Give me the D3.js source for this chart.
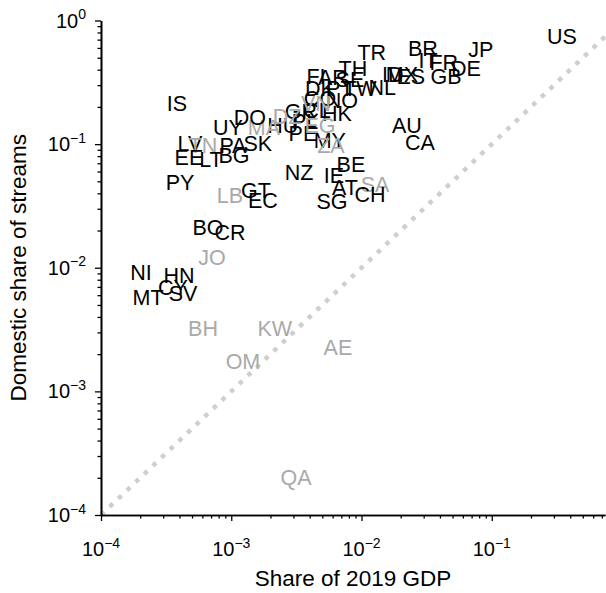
<!DOCTYPE html>
<html>
<head>
<meta charset="utf-8">
<script src="https://cdn.jsdelivr.net/npm/d3@7"></script>
<style>
  body { margin: 0; background: #fff; }
  text { font-family: Helvetica, Arial, "Liberation Sans", sans-serif; }
</style>
</head>
<body>
<svg width="606" height="593"></svg>
<script>
// country codes, GDP share (x), domestic share of streams (y)
const codes = ["US","JP","BR","IT","FR","DE","GB","TR","ID","MX","ES","NL","TH","FI","AR","SE",
  "DK","PT","TW","CO","NO","HK","GR","CL","VN","PE","PL","HU","MA","DZ","EG","MY","ZA","DO","UY",
  "IS","LV","TN","PA","SK","EE","LT","BG","NZ","IE","BE","AT","SA","CH","SG","AU","CA","PY","LB",
  "GT","EC","BO","CR","JO","NI","HN","CY","SV","MT","BH","KW","OM","AE","QA"];
const gdpShare = [0.345,0.0824,0.0296,0.0324,0.0428,0.0632,0.0445,0.0120,0.0174,0.0204,0.0239,0.0144,0.00859,0.00447,0.00603,0.00815,
  0.00480,0.00682,0.00973,0.00480,0.00708,0.00647,0.00343,0.00455,0.00447,0.00355,0.00368,0.00249,0.00178,0.00268,0.00480,0.00571,0.00582,0.00139,0.000943,
  0.000383,0.000482,0.000607,0.00103,0.00160,0.000473,0.000698,0.00105,0.00331,0.00614,0.00829,0.00746,0.0127,0.0116,0.00593,0.0223,0.0281,0.000404,0.000977,
  0.00155,0.00175,0.000662,0.000977,0.000711,0.000203,0.000397,0.000357,0.000426,0.000230,0.000607,0.00216,0.00123,0.00659,0.00314];
const streamShare = [0.75,0.588,0.599,0.479,0.461,0.413,0.356,0.556,0.369,0.369,0.356,0.290,0.413,0.356,0.349,0.336,
  0.284,0.284,0.284,0.236,0.227,0.179,0.185,0.189,0.215,0.123,0.154,0.143,0.1375,0.169,0.143,0.108,0.0983,0.166,0.1375,
  0.215,0.102,0.0983,0.0983,0.102,0.0786,0.0757,0.0816,0.0595,0.0562,0.069,0.045,0.0475,0.0395,0.0347,0.143,0.104,0.0493,0.0388,
  0.0425,0.0353,0.0213,0.0194,0.0122,0.00923,0.00873,0.00698,0.00624,0.00579,0.00325,0.00325,0.00176,0.00228,0.000203];
// markets drawn in grey
const greyCodes = ["VN","MA","DZ","EG","ZA","TN","SA","LB","JO","BH","KW","OM","AE","QA"];

const majorTicks = [1e-4, 1e-3, 1e-2, 1e-1];
const yMajorTicks = [1e-4, 1e-3, 1e-2, 1e-1, 1];
const tickExp = ["\u22124", "\u22123", "\u22122", "\u22121", "0"];

const svg = d3.select("svg");
const plotLeft = 101, plotRight = 605, plotTop = 20.5, plotBottom = 515;

const x = d3.scaleLog().domain([1e-4, 0.74]).range([plotLeft, plotRight]);
const y = d3.scaleLog().domain([1e-4, 1]).range([plotBottom, plotTop]);

const minorX = [], minorY = [];
for (let e = -4; e <= 0; e++) {
  for (let m = 2; m <= 9; m++) {
    const v = m * Math.pow(10, e);
    if (v <= 0.74) minorX.push(v);
    if (v < 1) minorY.push(v);
  }
}

// dotted y = x line
const line = d3.line().x(d => x(d)).y(d => y(d));
svg.append("path")
  .attr("d", line([1e-4, 0.74]))
  .attr("stroke", "#cfcfcf")
  .attr("stroke-width", 4.5)
  .attr("stroke-dasharray", "4.5 7.4")
  .attr("fill", "none");

// labels
const data = codes.map((c, i) => ({ c, x: gdpShare[i], y: streamShare[i] }));
svg.append("g").selectAll("text")
  .data(data)
  .join("text")
  .attr("x", d => x(d.x))
  .attr("y", d => y(d.y))
  .attr("dy", "0.36em")
  .attr("text-anchor", "middle")
  .attr("font-size", 21.5)
  .attr("fill", d => greyCodes.includes(d.c) ? "#a9a9a9" : "#000")
  .text(d => d.c);

// axes
const styleAxis = g => {
  g.selectAll("path").attr("stroke", "#000").attr("stroke-width", 1.6);
  g.selectAll("line").attr("stroke", "#000").attr("stroke-width", 1.3);
  g.selectAll("text").remove();
};

svg.append("g").attr("transform", `translate(0,${plotBottom})`)
  .call(d3.axisBottom(x).tickValues(majorTicks).tickSize(6).tickSizeOuter(0))
  .call(styleAxis);
svg.append("g").attr("transform", `translate(0,${plotBottom})`)
  .call(d3.axisBottom(x).tickValues(minorX).tickSize(3.5).tickSizeOuter(0))
  .call(styleAxis);
svg.append("g").attr("transform", `translate(${plotLeft},0)`)
  .call(d3.axisLeft(y).tickValues(yMajorTicks).tickSize(6).tickSizeOuter(0))
  .call(styleAxis);
svg.append("g").attr("transform", `translate(${plotLeft},0)`)
  .call(d3.axisLeft(y).tickValues(minorY).tickSize(3.5).tickSizeOuter(0))
  .call(styleAxis);

// tick labels 10^n
const xl = svg.append("g").selectAll("text")
  .data(majorTicks)
  .join("text")
  .attr("x", d => x(d))
  .attr("y", 556)
  .attr("text-anchor", "middle")
  .attr("font-size", 20);
xl.append("tspan").text("10");
xl.append("tspan").attr("dy", -8.5).attr("font-size", 14).text((d, i) => tickExp[i]);

const yl = svg.append("g").selectAll("text")
  .data(yMajorTicks)
  .join("text")
  .attr("x", 86)
  .attr("y", d => y(d) + 7)
  .attr("text-anchor", "end")
  .attr("font-size", 20);
yl.append("tspan").text("10");
yl.append("tspan").attr("dy", -8.5).attr("font-size", 14).text((d, i) => tickExp[i]);

// axis titles
svg.append("text")
  .attr("x", (plotLeft + plotRight) / 2)
  .attr("y", 586)
  .attr("text-anchor", "middle")
  .attr("font-size", 22.5)
  .text("Share of 2019 GDP");

svg.append("text")
  .attr("transform", `translate(26,${(plotTop + plotBottom) / 2}) rotate(-90)`)
  .attr("text-anchor", "middle")
  .attr("font-size", 22.5)
  .text("Domestic share of streams");
</script>
</body>
</html>
